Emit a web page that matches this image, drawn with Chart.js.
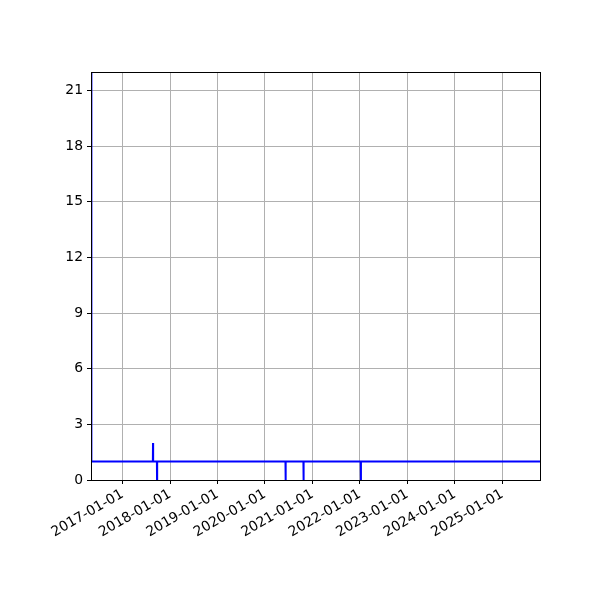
<!DOCTYPE html>
<html>
<head>
<meta charset="utf-8">
<script src="https://cdn.jsdelivr.net/npm/chart.js@4/dist/chart.umd.min.js"></script>
<style>
  html, body { margin: 0; padding: 0; background: #fff; }
  #wrap { width: 600px; height: 600px; }
</style>
</head>
<body>
<div id="wrap"><canvas id="chart"></canvas></div>
<script>
// Dates where the series changes (daily counts, mostly 1)
var dates = [
    '2016-05-05', '2016-05-06',
    '2017-08-22', '2017-08-23', '2017-08-24',
    '2017-09-22', '2017-09-23', '2017-09-24',
    '2020-06-07', '2020-06-08', '2020-06-09',
    '2020-10-23', '2020-10-24', '2020-10-25',
    '2022-01-07', '2022-01-08', '2022-01-09',
    '2025-10-17'
];
var counts = [
    30, 1,
    1, 2, 1,
    1, 0, 1,
    1, 0, 1,
    1, 0, 1,
    1, 0, 1,
    1
];
var xTickLabels = ['2017-01-01', '2018-01-01', '2019-01-01', '2020-01-01', '2021-01-01',
                   '2022-01-01', '2023-01-01', '2024-01-01', '2025-01-01'];
var yTicks = [0, 3, 6, 9, 12, 15, 18, 21];

function toMs(s) { return Date.parse(s + 'T00:00:00Z'); }
function fmtDate(ms) { return new Date(ms).toISOString().slice(0, 10); }

var points = dates.map(function (d, i) { return { x: toMs(d), y: counts[i] }; });

// draws the top and right spines like matplotlib
var frame = {
    id: 'frame',
    afterDraw: function (chart) {
        var a = chart.chartArea, ctx = chart.ctx;
        ctx.save();
        ctx.strokeStyle = '#000';
        ctx.lineWidth = 1;
        ctx.strokeRect(Math.round(a.left) + 0.5, Math.round(a.top) + 0.5,
                       Math.round(a.right - a.left), Math.round(a.bottom - a.top));
        ctx.restore();
    }
};

var tickFont = { family: 'DejaVu Sans', size: 13.9 };

new Chart(document.getElementById('chart'), {
    type: 'line',
    data: {
        datasets: [{
            data: points,
            borderColor: '#0000ff',
            borderWidth: 2,
            pointRadius: 0,
            fill: false,
            tension: 0
        }]
    },
    options: {
        responsive: true,
        maintainAspectRatio: false,
        animation: false,
        layout: { padding: { left: 0, top: 72, right: 60, bottom: 0 } },
        plugins: { legend: { display: false }, tooltip: { enabled: false } },
        scales: {
            x: {
                type: 'linear',
                min: toMs('2016-05-03'),
                max: toMs('2025-10-17'),
                afterBuildTicks: function (scale) {
                    scale.ticks = xTickLabels.map(function (s) { return { value: toMs(s) }; });
                },
                afterFit: function (scale) { scale.height = 120; },
                grid: { color: '#b0b0b0', lineWidth: 1, tickColor: '#000', tickLength: 4 },
                border: { color: '#000', width: 1 },
                ticks: {
                    color: '#000',
                    font: tickFont,
                    minRotation: 30,
                    maxRotation: 30,
                    autoSkip: false,
                    padding: 2,
                    callback: function (v) { return fmtDate(v); }
                }
            },
            y: {
                min: 0,
                max: 22,
                afterBuildTicks: function (scale) {
                    scale.ticks = yTicks.map(function (v) { return { value: v }; });
                },
                afterFit: function (scale) { scale.width = 91; },
                grid: { color: '#b0b0b0', lineWidth: 1, tickColor: '#000', tickLength: 4 },
                border: { color: '#000', width: 1 },
                ticks: { color: '#000', font: tickFont, padding: 4 }
            }
        }
    },
    plugins: [frame]
});
</script>
</body>
</html>
